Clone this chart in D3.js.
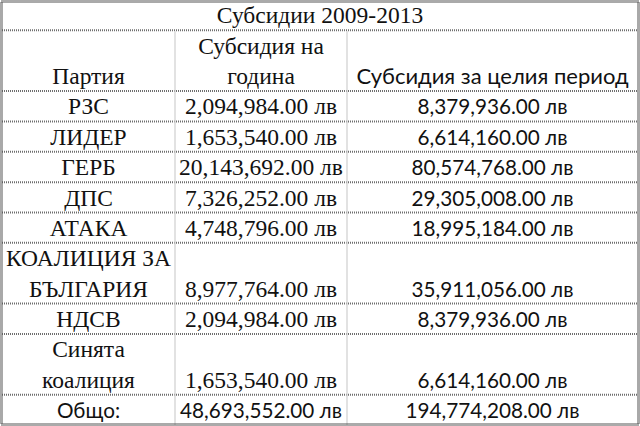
<!DOCTYPE html>
<html>
<head>
<meta charset="utf-8">
<script src="https://cdn.jsdelivr.net/npm/d3@7"></script>
<style>
  html,body{margin:0;padding:0;background:#fff;}
  svg{display:block;}
</style>
</head>
<body>
<div class="canvas"></div>
<script>
// table data
const title='Субсидии 2009-2013';
const headers=[['','Партия'],['Субсидия на','година'],['','Субсидия за целия период']];
const parties=[['РЗС'],['ЛИДЕР'],['ГЕРБ'],['ДПС'],['АТАКА'],['КОАЛИЦИЯ ЗА','БЪЛГАРИЯ'],['НДСВ'],['Синята','коалиция']];
const perYear=[2094984,1653540,20143692,7326252,4748796,8977764,2094984,1653540];
const fullPeriod=[8379936,6614160,80574768,29305008,18995184,35911056,8379936,6614160];
const totalLabel='Общо:';
const totalPerYear=48693552;
const totalFull=194774208;

const dims={width:640,height:426};
const serif='"Liberation Serif","Times New Roman",serif';
const sans='Lato,"Open Sans",sans-serif';

const svg=d3.select('.canvas')
  .append('svg')
  .attr('width',dims.width)
  .attr('height',dims.height);

const money=d=>d3.format(',.2f')(d)+' лв';

// rows: each line of text takes one unit of height
const rows=[];
rows.push({cells:headers,fonts:[serif,serif,sans],lines:2,head:true});
parties.forEach((p,i)=>{
  rows.push({cells:[p,[money(perYear[i])],[money(fullPeriod[i])]],fonts:[serif,serif,sans],lines:p.length});
});
rows.push({cells:[[totalLabel],[money(totalPerYear)],[money(totalFull)]],fonts:[sans,sans,sans],lines:1});

let acc=1;//title takes first unit
rows.forEach(r=>{r.start=acc;acc+=r.lines;r.end=acc;});

const y=d3.scaleLinear().domain([0,acc]).range([0,425]);
const colEdges=[2,175,347,638];
const x=d3.scaleOrdinal().domain([0,1,2]).range([0,1,2].map(i=>(colEdges[i]+colEdges[i+1])/2));

// horizontal rules
const hLines=[0].concat(rows.map(r=>r.start)).concat([acc]);
svg.selectAll('line.h')
  .data(hLines.slice(1,-1))
  .enter().append('line')
  .attr('class','h')
  .attr('x1',colEdges[0]).attr('x2',colEdges[3])
  .attr('y1',d=>y(d)).attr('y2',d=>y(d))
  .attr('stroke','#6e6e6e')
  .attr('stroke-width',2)
  .attr('stroke-dasharray','1 1');

// vertical rules (not through the title)
svg.selectAll('line.v')
  .data([1,2])
  .enter().append('line')
  .attr('class','v')
  .attr('x1',d=>colEdges[d]).attr('x2',d=>colEdges[d])
  .attr('y1',y(1)+1).attr('y2',y(acc))
  .attr('stroke','#cfcfcf')
  .attr('stroke-width',1.2);

// outer frame
svg.append('rect')
  .attr('x',1.5).attr('y',1.5)
  .attr('width',dims.width-3).attr('height',dims.height-3)
  .attr('fill','none')
  .attr('stroke','#555')
  .attr('stroke-width',3)
  .attr('stroke-dasharray','1 1');

// title
svg.append('text')
  .attr('x',320).attr('y',y(1)-7)
  .attr('text-anchor','middle')
  .attr('font-family',serif)
  .attr('font-size',23.5)
  .attr('fill','#111')
  .text(title);

// cell text, lines anchored to the bottom of the row
rows.forEach(r=>{
  r.cells.forEach((lines,ci)=>{
    const offset=r.lines-lines.length;
    const size=r.fonts[ci]===serif?23.5:(r.head?22:20.7);
    svg.append('g').selectAll('text')
      .data(lines)
      .enter().append('text')
      .attr('x',x(ci))
      .attr('y',(d,li)=>y(r.start+offset+li+1)-7)
      .attr('text-anchor','middle')
      .attr('font-family',r.fonts[ci])
      .attr('font-size',size)
      .attr('fill','#111')
      .text(d=>d);
  });
});
</script>
</body>
</html>
